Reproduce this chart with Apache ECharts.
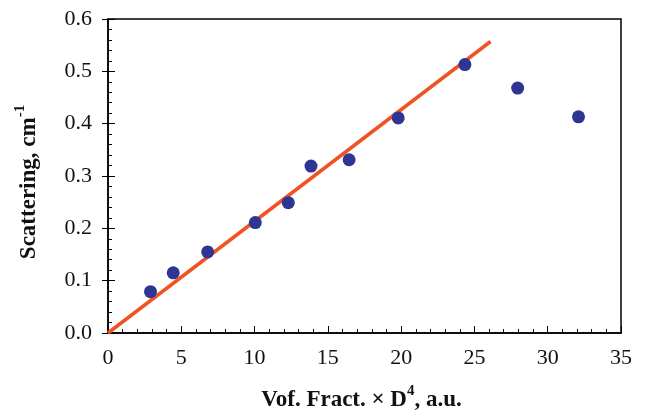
<!DOCTYPE html>
<html>
<head>
<meta charset="utf-8">
<script src="https://cdn.jsdelivr.net/npm/echarts@6/dist/echarts.min.js"></script>
<style>html,body{margin:0;padding:0;background:#fff}#c{width:648px;height:416px}</style>
</head>
<body>
<div id="c"></div>
<script>
// Measured points
var xValues = [2.9, 4.45, 6.8, 10.05, 12.3, 13.85, 16.45, 19.8, 24.35, 27.95, 32.1];
var yValues = [0.079, 0.115, 0.155, 0.211, 0.249, 0.319, 0.331, 0.411, 0.513, 0.468, 0.413];
// Linear fit line endpoints
var fitX = [0, 26.1];
var fitY = [0, 0.557];
var xTicks = [0, 5, 10, 15, 20, 25, 30, 35];
var yTicks = [0.0, 0.1, 0.2, 0.3, 0.4, 0.5, 0.6];

var pts = xValues.map(function (x, i) { return [x, yValues[i]]; });
var fit = fitX.map(function (x, i) { return [x, fitY[i]]; });

var font = '"Liberation Serif", "Times New Roman", serif';
var rich = {
  b: {fontFamily: font, fontSize: 23, fontWeight: 'bold', color: '#111', lineHeight: 28, verticalAlign: 'bottom'},
  s: {fontFamily: font, fontSize: 15, fontWeight: 'bold', color: '#111', lineHeight: 15, verticalAlign: 'top'}
};
var chart = echarts.init(document.getElementById('c'), null, {renderer: 'canvas'});
chart.setOption({
  animation: false,
  backgroundColor: '#fff',
  grid: {left: 108, right: 27, top: 19, bottom: 83, containLabel: false, outerBoundsMode: 'none',
    show: true, borderColor: '#000', borderWidth: 1.5, backgroundColor: 'transparent'},
  xAxis: [{
    type: 'value', min: xTicks[0], max: xTicks[xTicks.length - 1], interval: 5,
    position: 'bottom',
    axisLine: {show: true, lineStyle: {color: '#000', width: 1.5}},
    axisTick: {show: true, inside: true, length: 7, lineStyle: {color: '#000', width: 1}},
    minorTick: {show: true, splitNumber: 5, length: 4, lineStyle: {color: '#000', width: 1}},
    splitLine: {show: false},
    axisLabel: {fontFamily: font, fontSize: 22, color: '#111', margin: 14},
    name: '{b|Vof. Fract. × D}{s|4}{b|, a.u.}',
    nameLocation: 'middle', nameGap: 51,
    nameTextStyle: {rich: rich, padding: [0, 6, 0, 0]}
  }],
  yAxis: [{
    type: 'value', min: yTicks[0], max: yTicks[yTicks.length - 1], interval: 0.1,
    position: 'left',
    axisLine: {show: true, lineStyle: {color: '#000', width: 1.5}},
    axisTick: {show: true, inside: true, length: 7, lineStyle: {color: '#000', width: 1}},
    minorTick: {show: true, splitNumber: 5, length: 4, lineStyle: {color: '#000', width: 1}},
    splitLine: {show: false},
    axisLabel: {fontFamily: font, fontSize: 22, color: '#111', margin: 16,
      formatter: function (v) { return v.toFixed(1); }},
    name: '{b|Scattering, cm}{s|-1}',
    nameLocation: 'middle', nameGap: 67, nameRotate: 90,
    nameTextStyle: {rich: rich, padding: [0, 12, 0, 0]}
  }, {
    type: 'value', min: yTicks[0], max: yTicks[yTicks.length - 1], interval: 0.1,
    position: 'left',
    axisLine: {show: false, onZero: false},
    axisTick: {show: true, inside: false, length: 6, lineStyle: {color: '#000', width: 1}},
    axisLabel: {show: false}, splitLine: {show: false}
  }],
  series: [{
    type: 'line', data: fit, xAxisIndex: 0, yAxisIndex: 0,
    showSymbol: false, symbol: 'none',
    lineStyle: {color: '#f05323', width: 3.5}, z: 2
  }, {
    type: 'scatter', data: pts, xAxisIndex: 0, yAxisIndex: 0,
    symbol: 'circle', symbolSize: 13,
    itemStyle: {color: '#2e3694', opacity: 1}, z: 3
  }]
});
</script>
</body>
</html>
